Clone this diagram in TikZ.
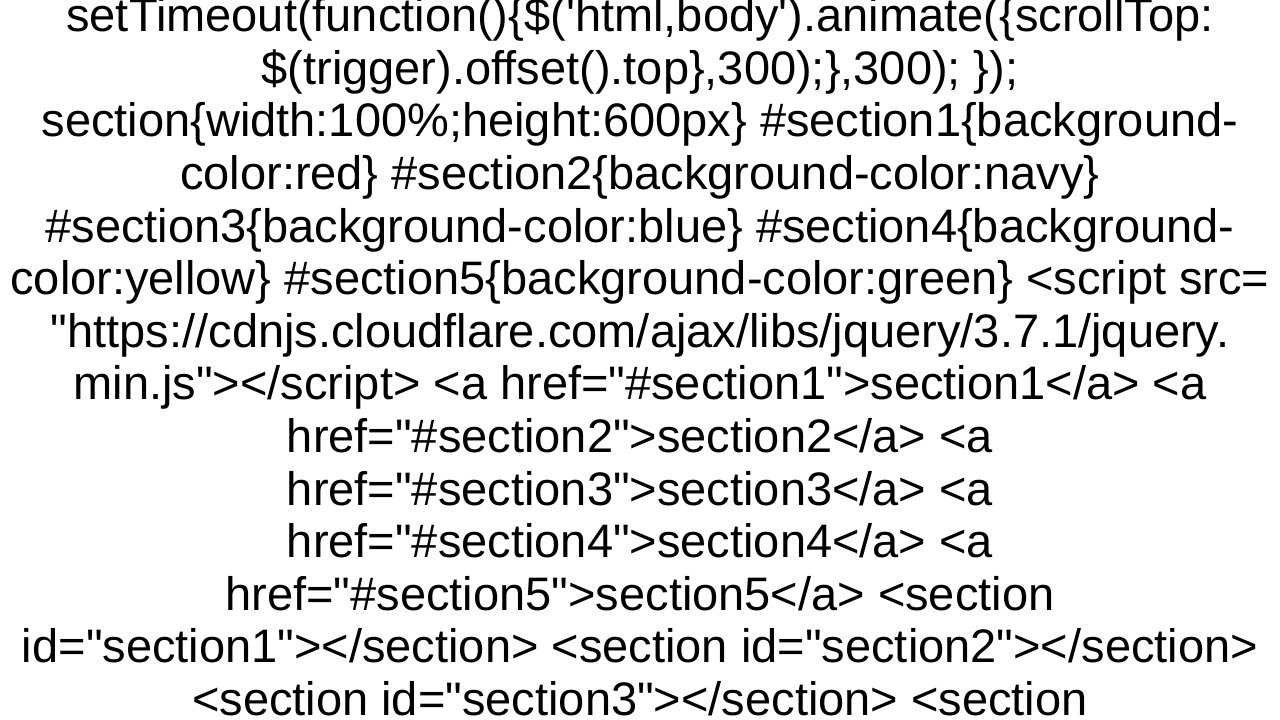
\documentclass[tikz,border=0pt]{standalone}
\usepackage{fontspec}
\setmainfont{Liberation Sans}[Ligatures=TeXOff]
\usetikzlibrary{positioning}

\begin{document}
\begin{tikzpicture}[
    x=1pt, y=1pt,
    codeline/.style={anchor=base, inner sep=0pt, font=\fontsize{47}{56}\selectfont}
]
\useasboundingbox (0,0) rectangle (1280,720);

% Lines of text
\node[codeline] (l1) at (640,688.2) {setTimeout(function()\{\$('html,body').animate(\{scrollTop:};
\node[codeline] (l2) at (640,635.6) {\$(trigger).offset().top\},300);\},300); \});};
\node[codeline] (l3) at (640,583) {section\{width:100\%;height:600px\} \#section1\{background-};
\node[codeline] (l4) at (640,530.4) {color:red\} \#section2\{background-color:navy\}};
\node[codeline] (l5) at (640,477.8) {\#section3\{background-color:blue\} \#section4\{background-};
\node[codeline] (l6) at (640,425.2) {color:yellow\} \#section5\{background-color:green\} <script src=};
\node[codeline] (l7) at (640,372.6) {"https://cdnjs.cloudflare.com/ajax/libs/jquery/3.7.1/jquery.};
\node[codeline] (l8) at (640,320) {min.js"></script> <a href="\#section1">section1</a> <a};
\node[codeline] (l9) at (640,267.4) {href="\#section2">section2</a> <a};
\node[codeline] (l10) at (640,214.8) {href="\#section3">section3</a> <a};
\node[codeline] (l11) at (640,162.2) {href="\#section4">section4</a> <a};
\node[codeline] (l12) at (640,109.6) {href="\#section5">section5</a> <section};
\node[codeline] (l13) at (640,57) {id="section1"></section> <section id="section2"></section>};
\node[codeline] (l14) at (640,4.4) {<section id="section3"></section> <section};

\end{tikzpicture}
\end{document}
